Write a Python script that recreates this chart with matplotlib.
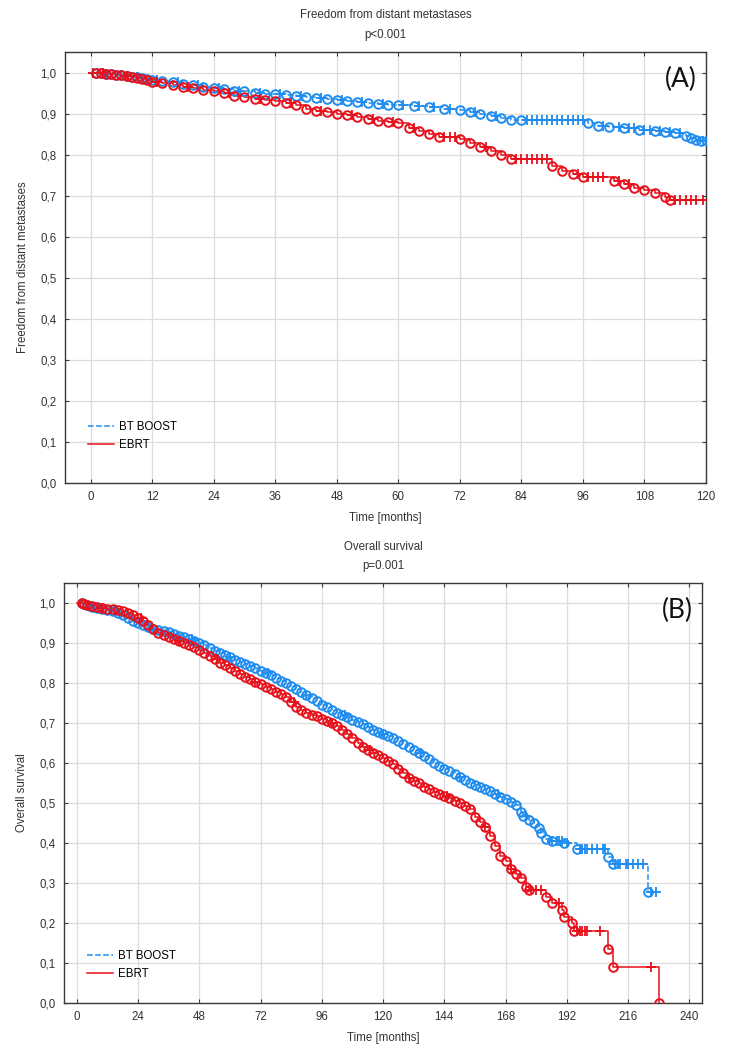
import numpy as np
import matplotlib
matplotlib.use("Agg")
import matplotlib.pyplot as plt
from matplotlib.ticker import FuncFormatter

plt.rcParams['font.family'] = ['Liberation Sans', 'DejaVu Sans']

# ---------------- Panel A: Freedom from distant metastases ----------------
a_bt_t = [1, 2, 3, 4, 5, 6, 7, 8, 9, 10, 11, 12, 14, 16, 18, 20, 22, 24, 26, 28, 30, 32, 34, 36,
          38, 40, 42, 44, 46, 48, 50, 52, 54, 56, 58, 60, 63, 66, 69, 72, 74, 76, 78, 80, 82, 84,
          97, 99, 101, 104, 107, 110, 112, 114, 116, 117, 118, 119]
a_bt_s = [0.999, 0.998, 0.997, 0.996, 0.994, 0.993, 0.991, 0.990, 0.988, 0.986, 0.984, 0.982,
          0.979, 0.976, 0.973, 0.970, 0.966, 0.962, 0.959, 0.956, 0.954, 0.951, 0.949, 0.947,
          0.945, 0.942, 0.940, 0.938, 0.936, 0.934, 0.931, 0.929, 0.927, 0.924, 0.922, 0.920,
          0.918, 0.915, 0.912, 0.908, 0.903, 0.898, 0.894, 0.889, 0.885, 0.884,
          0.878, 0.870, 0.867, 0.864, 0.861, 0.858, 0.855, 0.852, 0.845, 0.840, 0.836, 0.834]
a_bt_cens = [0.5, 3, 6, 9, 13, 17, 21, 25, 29, 33, 37, 41, 45, 49, 53, 57, 61, 64, 67, 70, 75, 79,
             85, 86, 87, 88, 89, 90, 91, 92, 93, 94, 95, 96, 100, 103, 105, 106, 108, 109, 111,
             113, 115, 119.5, 120]

a_eb_t = [1, 2, 3, 4, 5, 6, 7, 8, 9, 10, 11, 12, 14, 16, 18, 20, 22, 24, 26, 28, 30, 32, 34, 36,
          38, 40, 42, 44, 46, 48, 50, 52, 54, 56, 58, 60, 62, 64, 66, 68, 72, 74, 76, 78, 80, 82,
          90, 92, 94, 96, 102, 104, 106, 108, 110, 112, 113]
a_eb_s = [0.999, 0.998, 0.997, 0.996, 0.995, 0.993, 0.991, 0.989, 0.987, 0.984, 0.981, 0.978,
          0.974, 0.970, 0.966, 0.962, 0.958, 0.955, 0.950, 0.944, 0.940, 0.936, 0.933, 0.930,
          0.925, 0.920, 0.912, 0.907, 0.903, 0.900, 0.896, 0.892, 0.888, 0.883, 0.879, 0.876,
          0.866, 0.858, 0.850, 0.842, 0.838, 0.828, 0.818, 0.810, 0.800, 0.790,
          0.772, 0.760, 0.753, 0.746, 0.737, 0.728, 0.720, 0.714, 0.707, 0.698, 0.690]
a_eb_cens = [0.5, 2.5, 7, 13, 19, 27, 33, 39, 45, 51, 55, 59, 63, 69, 70, 71, 77, 83, 84, 85, 86,
             87, 88, 89, 95, 97, 98, 99, 100, 103, 105, 114, 115, 116, 117, 118, 119.5]

# ---------------- Panel B: Overall survival ----------------
b_bt_t = [2, 3, 4, 5, 6, 8, 10, 12, 14, 16, 18, 20, 22, 24, 26, 28, 30, 32, 34, 36, 38, 40, 42,
          44, 46, 48, 50, 52, 54, 56, 58, 60, 62, 64, 66, 68, 70, 72, 74, 76, 78, 80, 82, 84, 86,
          88, 90, 92, 94, 96, 98, 100, 102, 104, 106, 108, 110, 112, 114, 116, 118, 120, 122, 124,
          126, 128, 130, 132, 134, 136, 138, 140, 142, 144, 146, 148, 150, 152, 154, 156, 158, 160,
          162, 164, 166, 168, 170, 172, 174, 175, 177, 179, 181, 182, 184, 186, 191, 196, 208, 210,
          224]
b_bt_s = [1.000, 0.997, 0.994, 0.992, 0.990, 0.988, 0.986, 0.983, 0.980, 0.976, 0.970, 0.963,
          0.956, 0.950, 0.944, 0.939, 0.935, 0.932, 0.930, 0.927, 0.923, 0.918, 0.914, 0.909,
          0.904, 0.899, 0.894, 0.888, 0.881, 0.875, 0.869, 0.864, 0.858, 0.853, 0.848, 0.842,
          0.837, 0.831, 0.825, 0.819, 0.812, 0.806, 0.799, 0.792, 0.785, 0.777, 0.769, 0.762,
          0.754, 0.746, 0.739, 0.733, 0.726, 0.720, 0.714, 0.708, 0.703, 0.697, 0.690, 0.683,
          0.677, 0.672, 0.667, 0.662, 0.655, 0.648, 0.640, 0.633, 0.626, 0.618, 0.609, 0.600,
          0.592, 0.585, 0.579, 0.573, 0.566, 0.558, 0.551, 0.545, 0.540, 0.535, 0.529, 0.522,
          0.516, 0.510, 0.503, 0.495, 0.478, 0.468, 0.458, 0.449, 0.438, 0.425, 0.410, 0.405,
          0.399, 0.386, 0.366, 0.348, 0.278]
b_bt_cens = [5, 15, 30, 45, 60, 75, 90, 105, 120, 135, 150, 165, 176, 186, 188, 189, 190, 192,
             197, 198, 199, 200, 202, 204, 206, 207, 211, 212, 213, 215, 216, 218, 220, 222, 225,
             227]

b_eb_t = [2, 3, 4, 6, 8, 10, 12, 14, 16, 18, 20, 22, 24, 26, 28, 30, 32, 34, 36, 38, 40, 42, 44,
          46, 48, 50, 52, 54, 56, 58, 60, 62, 64, 66, 68, 70, 72, 74, 76, 78, 80, 82, 84, 86, 88,
          90, 92, 94, 96, 98, 100, 102, 104, 106, 108, 110, 112, 114, 116, 118, 120, 122, 124, 126,
          128, 130, 132, 134, 136, 138, 140, 142, 144, 146, 148, 150, 152, 154, 156, 158, 160, 162,
          164, 166, 168, 170, 172, 174, 176, 177, 184, 186, 190, 191, 194, 195, 208, 210, 228]
b_eb_s = [1.000, 0.997, 0.995, 0.992, 0.990, 0.988, 0.986, 0.984, 0.982, 0.979, 0.975, 0.969,
          0.962, 0.954, 0.944, 0.934, 0.926, 0.920, 0.915, 0.910, 0.906, 0.901, 0.895, 0.889,
          0.882, 0.875, 0.867, 0.859, 0.851, 0.844, 0.837, 0.830, 0.822, 0.815, 0.809, 0.803,
          0.797, 0.791, 0.785, 0.778, 0.772, 0.765, 0.753, 0.741, 0.732, 0.726, 0.721, 0.717,
          0.711, 0.705, 0.699, 0.692, 0.683, 0.673, 0.662, 0.651, 0.641, 0.633, 0.626, 0.619,
          0.612, 0.605, 0.597, 0.586, 0.574, 0.563, 0.556, 0.549, 0.541, 0.534, 0.528, 0.523,
          0.518, 0.513, 0.506, 0.499, 0.492, 0.484, 0.466, 0.453, 0.440, 0.418, 0.392, 0.368,
          0.354, 0.336, 0.322, 0.312, 0.290, 0.283, 0.266, 0.250, 0.232, 0.216, 0.200, 0.180,
          0.134, 0.090, 0.000]
b_eb_cens = [10, 25, 40, 55, 70, 85, 100, 115, 130, 145, 160, 170, 178, 180, 182, 189, 196, 197,
             198, 199, 200, 205, 225]

BLUE = '#1f8cf0'
RED = '#e8101a'


def surv_at(times, surv, t):
    times = np.asarray(times, float)
    surv = np.asarray(surv, float)
    idx = np.searchsorted(times, t, side='right') - 1
    return np.where(idx < 0, 1.0, surv[np.clip(idx, 0, None)])


def km(ax, t, s, cens, color, ls, label, tend):
    tt = np.concatenate([[0], t, [tend]])
    ss = np.concatenate([[1.0], s, [s[-1]]])
    ax.step(tt, ss, where='post', color=color, ls=ls, lw=1.1, label=label, zorder=3)
    ax.plot(t, s, 'o', ms=6.2, mfc='none', mec=color, mew=1.4, zorder=4)
    c = np.asarray(cens, float)
    ax.plot(c, surv_at(t, s, c), '+', ms=7.5, color=color, mew=1.3, zorder=4)


fmt = FuncFormatter(lambda v, p: f"{v:.1f}".replace('.', ','))

fig = plt.figure(figsize=(7.42, 10.6), dpi=100)
axA = fig.add_axes([0.0876, 0.5443, 0.8639, 0.4066])
axB = fig.add_axes([0.0863, 0.0538, 0.8599, 0.3962])


def style(ax, xticks, xlim):
    ax.set_xlim(*xlim)
    ax.set_ylim(0, 1.05)
    ax.set_xticks(xticks)
    ax.set_yticks(np.arange(0, 1.01, 0.1))
    ax.yaxis.set_major_formatter(fmt)
    ax.grid(True, color='#dcdcdc', lw=0.9)
    ax.set_axisbelow(True)
    for sp in ax.spines.values():
        sp.set_color('#3a3a3a')
        sp.set_linewidth(1.0)
    ax.tick_params(direction='in', length=3, labelsize=8.3, colors='#3a3a3a',
                   labelcolor='#333333', pad=6, top=True, right=True)
    ax.set_xlabel('Time [months]', fontsize=8.3, color='#333333', labelpad=6)


style(axA, np.arange(0, 121, 12), (-5, 120))
km(axA, a_bt_t, a_bt_s, a_bt_cens, BLUE, '--', 'BT BOOST', 120)
km(axA, a_eb_t, a_eb_s, a_eb_cens, RED, '-', 'EBRT', 120)
axA.set_ylabel('Freedom from distant metastases', fontsize=8.3, color='#333333', labelpad=8)
axA.text(0.5, 1.085, 'Freedom from distant metastases', transform=axA.transAxes,
         ha='center', va='center', fontsize=8.3, color='#333333')
axA.text(0.5, 1.04, 'p<0.001', transform=axA.transAxes,
         ha='center', va='center', fontsize=8.3, color='#333333')
axA.text(0.985, 0.965, '(A)', transform=axA.transAxes, ha='right', va='top',
         fontsize=19, family=['Lato', 'DejaVu Sans'], color='#111111')
axA.legend(loc='lower left', bbox_to_anchor=(0.02, 0.05), frameon=False, fontsize=8.3,
           handlelength=2.2, handletextpad=0.5, labelspacing=0.5)

style(axB, np.arange(0, 241, 24), (-5, 245))
km(axB, b_bt_t, b_bt_s, b_bt_cens, BLUE, '--', 'BT BOOST', 228)
km(axB, b_eb_t, b_eb_s, b_eb_cens, RED, '-', 'EBRT', 228)
axB.set_ylabel('Overall survival', fontsize=8.3, color='#333333', labelpad=8)
axB.text(0.5, 1.085, 'Overall survival', transform=axB.transAxes,
         ha='center', va='center', fontsize=8.3, color='#333333')
axB.text(0.5, 1.04, 'p=0.001', transform=axB.transAxes,
         ha='center', va='center', fontsize=8.3, color='#333333')
axB.text(0.985, 0.965, '(B)', transform=axB.transAxes, ha='right', va='top',
         fontsize=19, family=['Lato', 'DejaVu Sans'], color='#111111')
axB.legend(loc='lower left', bbox_to_anchor=(0.02, 0.03), frameon=False, fontsize=8.3,
           handlelength=2.2, handletextpad=0.5, labelspacing=0.5)

fig.savefig('out.png', dpi=100)
